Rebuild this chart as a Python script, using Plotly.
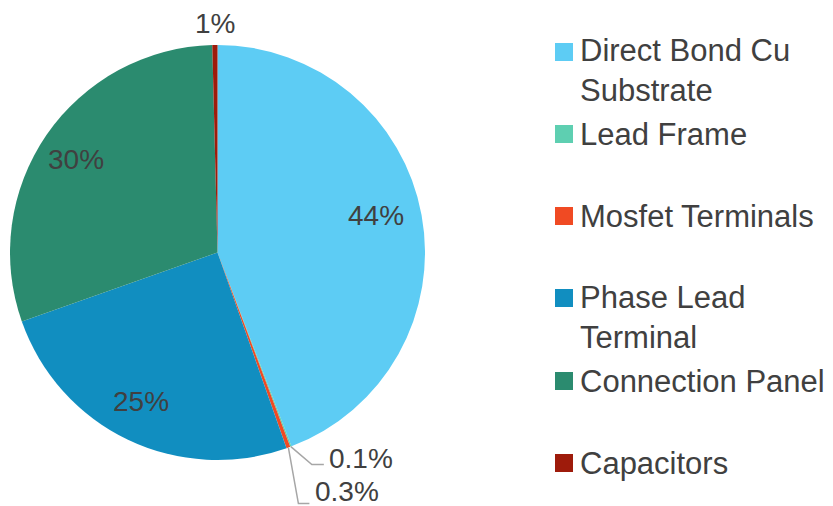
import math
import plotly.graph_objects as go

W, H = 833, 506
OFF = 8  # page body margin in the browser

categories = ["Direct Bond Cu Substrate", "Lead Frame", "Mosfet Terminals",
              "Phase Lead Terminal", "Connection Panel", "Capacitors"]
legend_labels = ["Direct Bond Cu<br>Substrate", "Lead Frame", "Mosfet Terminals",
                 "Phase Lead<br>Terminal", "Connection Panel", "Capacitors"]
values = [44.2, 0.1, 0.3, 25.0, 30.0, 0.4]
value_labels = ["44%", "0.1%", "0.3%", "25%", "30%", "1%"]
colors = ["#5DCCF4", "#5ECFB1", "#F04A23", "#118EC0", "#2B8B6F", "#9E1B0B"]

FONT = "Liberation Sans, Arial, sans-serif"
TXT = "#404040"
LINE = "#A6A6A6"


def px(x):
    return (x - OFF) / W


def py(y):
    return 1 - (y - OFF) / H


cx, cy, r = 217.5, 252.5, 207.5
fig = go.Figure(go.Pie(
    labels=categories, values=values,
    textinfo="none",
    sort=False, direction="clockwise", rotation=0,
    marker=dict(colors=colors, line=dict(width=0)),
    showlegend=False, hoverinfo="label+percent",
    domain=dict(x=[px(cx - r), px(cx + r)], y=[py(cy + r), py(cy - r)]),
))

shapes, annotations = [], []

# data labels placed from the slices' mid-angles
total = sum(values)
cum = 0.0
mids = []
for v in values:
    mids.append((cum + v / 2) / total * 2 * math.pi)
    cum += v


def polar(ang, rad):
    return cx + rad * math.sin(ang), cy - rad * math.cos(ang)


label_font = dict(family=FONT, size=28, color=TXT)
label_shift = {0: (-3, -7), 3: (-6, 1), 4: (-7, 0)}
for i in (0, 3, 4):
    x, y = polar(mids[i], 0.79 * r)
    sx, sy = label_shift[i]
    annotations.append(dict(xref="paper", yref="paper", x=px(x + sx), y=py(y + sy),
                            xanchor="center", yanchor="middle", text=value_labels[i],
                            showarrow=False, font=label_font))

# capacitors label above the pie
x, y = polar(mids[5], r)
annotations.append(dict(xref="paper", yref="paper", x=px(x), y=py(y - 22),
                        xanchor="center", yanchor="middle", text=value_labels[5],
                        showarrow=False, font=label_font))

# small slices with elbow leader lines
for i, (d1, d2, dx_txt, dy_txt) in zip((1, 2), [((21, 18), (33, 18), 36, -6),
                                            ((10, 56), (21, 56), 25, -12)]):
    ex, ey = polar(mids[i], r)
    p1 = (ex + d1[0], ey + d1[1])
    p2 = (ex + d2[0], ey + d2[1])
    path = "M {} {} L {} {} L {} {}".format(px(ex), py(ey), px(p1[0]), py(p1[1]),
                                            px(p2[0]), py(p2[1]))
    shapes.append(dict(type="path", xref="paper", yref="paper", path=path,
                       line=dict(color=LINE, width=1.5)))
    annotations.append(dict(xref="paper", yref="paper", x=px(ex + dx_txt),
                            y=py(p2[1] + dy_txt), xanchor="left", yanchor="middle",
                            text=value_labels[i], showarrow=False, font=label_font))

# manual legend (Excel-style wrapped entries)
sq_x0, sq_x1 = 555, 573
text_x = 578
rows = [(52, 71), (134, 134), (216, 216), (298, 317), (381, 381), (463, 463)]
for (sq_y, txt_y), lab, col in zip(rows, legend_labels, colors):
    shapes.append(dict(type="rect", xref="paper", yref="paper",
                       x0=px(sq_x0), x1=px(sq_x1),
                       y0=py(sq_y + 9), y1=py(sq_y - 9),
                       fillcolor=col, line=dict(width=0)))
    annotations.append(dict(xref="paper", yref="paper", x=px(text_x), y=py(txt_y),
                            xanchor="left", yanchor="middle", align="left",
                            text=lab, showarrow=False,
                            font=dict(family=FONT, size=31, color=TXT)))

fig.update_layout(
    width=W, height=H, margin=dict(l=0, r=0, t=0, b=0),
    paper_bgcolor="white", plot_bgcolor="white",
    shapes=shapes, annotations=annotations,
)
fig.write_html("out.html")
